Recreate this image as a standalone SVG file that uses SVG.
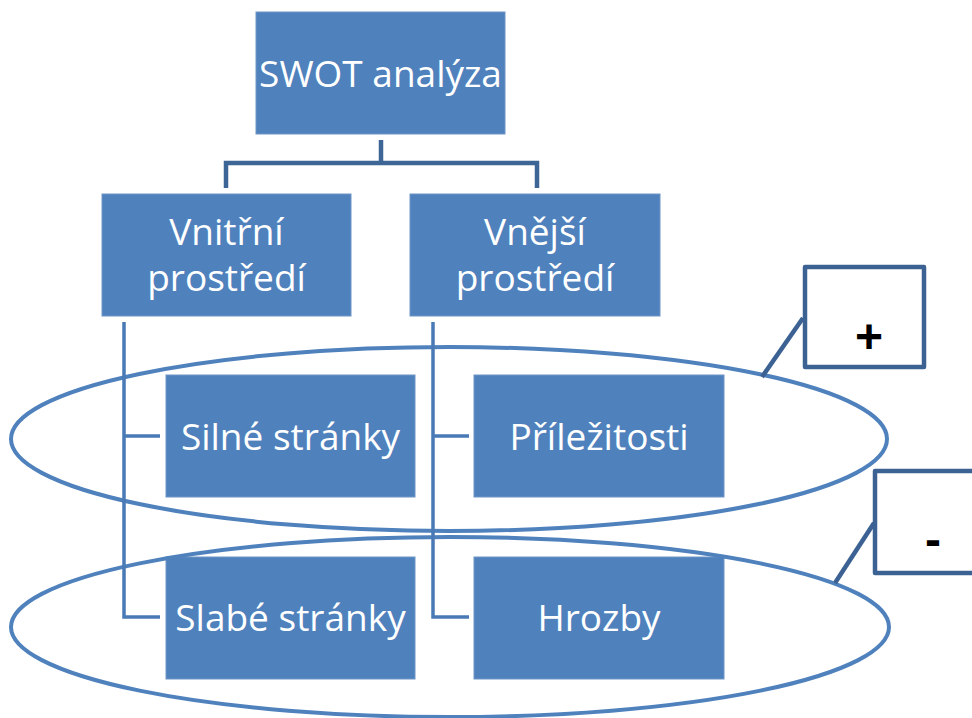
<svg xmlns="http://www.w3.org/2000/svg" width="972" height="718" viewBox="0 0 972 718">
<style>
.box{fill:#4F81BD;stroke:#6E95C6;stroke-width:1}
.lbl{font-family:"Open Sans","Liberation Sans",sans-serif;font-size:37px;fill:#FFFFFF;text-anchor:middle}
.ell{fill:none;stroke:#4F81BD;stroke-width:4}
.c1{fill:none;stroke:#3D6596;stroke-width:4.5}
.c2{fill:none;stroke:#4A7AB5;stroke-width:3.5}
.call{fill:#FFFFFF;stroke:#3C6193;stroke-width:4.5;stroke-linejoin:round}
.cline{stroke:#3C6193;stroke-width:4.5}
.sign{font-family:"Liberation Sans",Arial,sans-serif;font-weight:bold;font-size:48px;fill:#000000;text-anchor:middle}
</style>
<rect width="972" height="718" fill="#FFFFFF"/>
<g id="swot"><rect class="box" x="256" y="12" width="249" height="122"/><text class="lbl" x="380.5" y="87">SWOT analýza</text></g>
<g id="vnitrni"><rect class="box" x="102" y="194" width="249" height="122"/><text class="lbl" x="226.5" y="245">Vnitřní</text><text class="lbl" x="226.5" y="291">prostředí</text></g>
<g id="vnejsi"><rect class="box" x="410" y="194" width="250" height="122"/><text class="lbl" x="535" y="245">Vnější</text><text class="lbl" x="535" y="291">prostředí</text></g>
<g id="silne"><rect class="box" x="166" y="375" width="249" height="122"/><text class="lbl" x="290.5" y="450">Silné stránky</text></g>
<g id="prilezitosti"><rect class="box" x="474" y="375" width="250" height="122"/><text class="lbl" x="599" y="450">Příležitosti</text></g>
<g id="slabe"><rect class="box" x="166" y="557" width="249" height="122"/><text class="lbl" x="290.5" y="631">Slabé stránky</text></g>
<g id="hrozby"><rect class="box" x="474" y="557" width="250" height="122"/><text class="lbl" x="599" y="631">Hrozby</text></g>
<g id="ellipses">
<ellipse class="ell" cx="449" cy="439" rx="438" ry="92"/>
<ellipse class="ell" cx="450" cy="627" rx="439" ry="90"/>
</g>
<g id="connectors">
<path class="c1" d="M381 140V163M226 188V163H537V188"/>
<path class="c2" d="M124 322V617H160M124 436H160"/>
<path class="c2" d="M433 322V617H469M433 436H469"/>
</g>
<g id="plus"><line class="cline" x1="803" y1="318" x2="762" y2="377"/><rect class="call" x="805" y="267" width="119" height="100"/><text class="sign" x="869" y="353">+</text></g>
<g id="minus"><line class="cline" x1="874" y1="523" x2="835" y2="583"/><rect class="call" x="875" y="471" width="110" height="102"/><text class="sign" x="933" y="556">-</text></g>
</svg>
